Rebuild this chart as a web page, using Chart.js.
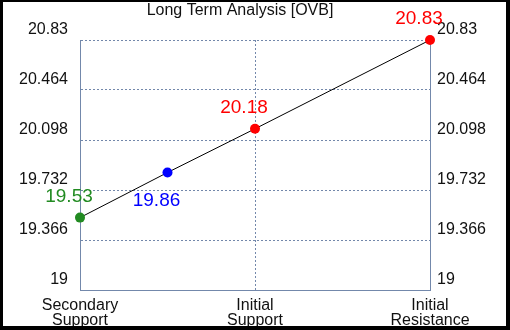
<!DOCTYPE html>
<html lang="en">
  <head>
    <meta charset="UTF-8" />
    <title>Long Term Analysis [OVB]</title>
    <script src="https://cdn.jsdelivr.net/npm/chart.js@4.4.0/dist/chart.umd.min.js"></script>
    <style>
      body {
        margin: 0;
        background: #000;
      }
      #chartContainer {
        position: absolute;
        left: 3px;
        top: 2px;
        width: 503px;
        height: 324px;
        background: #fff;
      }
    </style>
  </head>
  <body>
    <div id="chartContainer">
      <canvas id="analysisChart"></canvas>
    </div>

    <script>
      const chartTitle = 'Long Term Analysis [OVB]';
      const categories = [['Secondary', 'Support'], ['Initial', 'Support'], ['Initial', 'Resistance']];
      const pointPositions = [0, 0.5, 1, 2];
      const pointValues = [19.53, 19.86, 20.18, 20.83];
      const pointColors = ['#228b22', '#0000ff', '#ff0000', '#ff0000'];
      const yTicks = [19, 19.366, 19.732, 20.098, 20.464, 20.83];

      const axisColor = '#7388ab';
      const fontFamily = '"Liberation Sans", Arial, sans-serif';

      // value labels next to each point (blue one sits under its point)
      const valueLabels = {
        id: 'valueLabels',
        afterDatasetsDraw(chart) {
          const ctx = chart.ctx;
          const meta = chart.getDatasetMeta(0);
          ctx.save();
          ctx.font = '19px ' + fontFamily;
          ctx.textAlign = 'center';
          ctx.textBaseline = 'middle';
          meta.data.forEach((pt, i) => {
            const below = i === 1;
            ctx.fillStyle = pointColors[i];
            ctx.fillText(pointValues[i].toFixed(2), pt.x - 11, below ? pt.y + 28 : pt.y - 21);
          });
          ctx.restore();
        },
      };

      const titleText = {
        id: 'titleText',
        afterDraw(chart) {
          const ctx = chart.ctx;
          ctx.save();
          ctx.font = '16px ' + fontFamily;
          ctx.fillStyle = '#111';
          ctx.textAlign = 'center';
          ctx.textBaseline = 'middle';
          ctx.fillText(chartTitle, 237, 9);
          ctx.restore();
        },
      };

      function yAxis(position, width, pad) {
        return {
          type: 'linear',
          position: position,
          min: 19,
          max: 20.83,
          afterBuildTicks: (scale) => {
            scale.ticks = yTicks.map((v) => ({ value: v }));
          },
          afterFit: (scale) => {
            scale.width = width;
          },
          grid: {
            display: position === 'left',
            color: axisColor,
            drawTicks: false,
          },
          border: { display: true, color: axisColor, width: 1, dash: [2, 2] },
          ticks: {
            color: '#111',
            font: { family: fontFamily, size: 16 },
            padding: pad,
            labelOffset: -10,
            callback: (v) => String(v),
          },
        };
      }

      const ctx = document.getElementById('analysisChart').getContext('2d');
      new Chart(ctx, {
        type: 'line',
        data: {
          datasets: [
            {
              data: pointPositions.map((x, i) => ({ x: x, y: pointValues[i] })),
              borderColor: '#000',
              borderWidth: 1,
              pointRadius: 5,
              pointHoverRadius: 5,
              pointBorderWidth: 0,
              pointBackgroundColor: pointColors,
              fill: false,
              tension: 0,
              clip: false,
            },
          ],
        },
        options: {
          responsive: true,
          maintainAspectRatio: false,
          animation: false,
          layout: { padding: { top: 38, left: 0, right: 0, bottom: 0 } },
          plugins: {
            legend: { display: false },
            title: { display: false },
            tooltip: { enabled: false },
          },
          scales: {
            x: {
              type: 'linear',
              position: 'bottom',
              min: 0,
              max: 2,
              afterBuildTicks: (scale) => {
                scale.ticks = categories.map((_, i) => ({ value: i }));
              },
              afterFit: (scale) => {
                scale.height = 36;
              },
              grid: { color: axisColor, drawTicks: false },
              border: { display: true, color: axisColor, width: 1, dash: [2, 2] },
              ticks: {
                color: '#111',
                font: { family: fontFamily, size: 16, lineHeight: 0.94 },
                padding: 8,
                maxRotation: 0,
                autoSkip: false,
                callback: (v) => categories[v],
              },
            },
            y: yAxis('left', 77, 12),
            y2: yAxis('right', 76, 7),
          },
        },
        plugins: [valueLabels, titleText],
      });
    </script>
  </body>
</html>
